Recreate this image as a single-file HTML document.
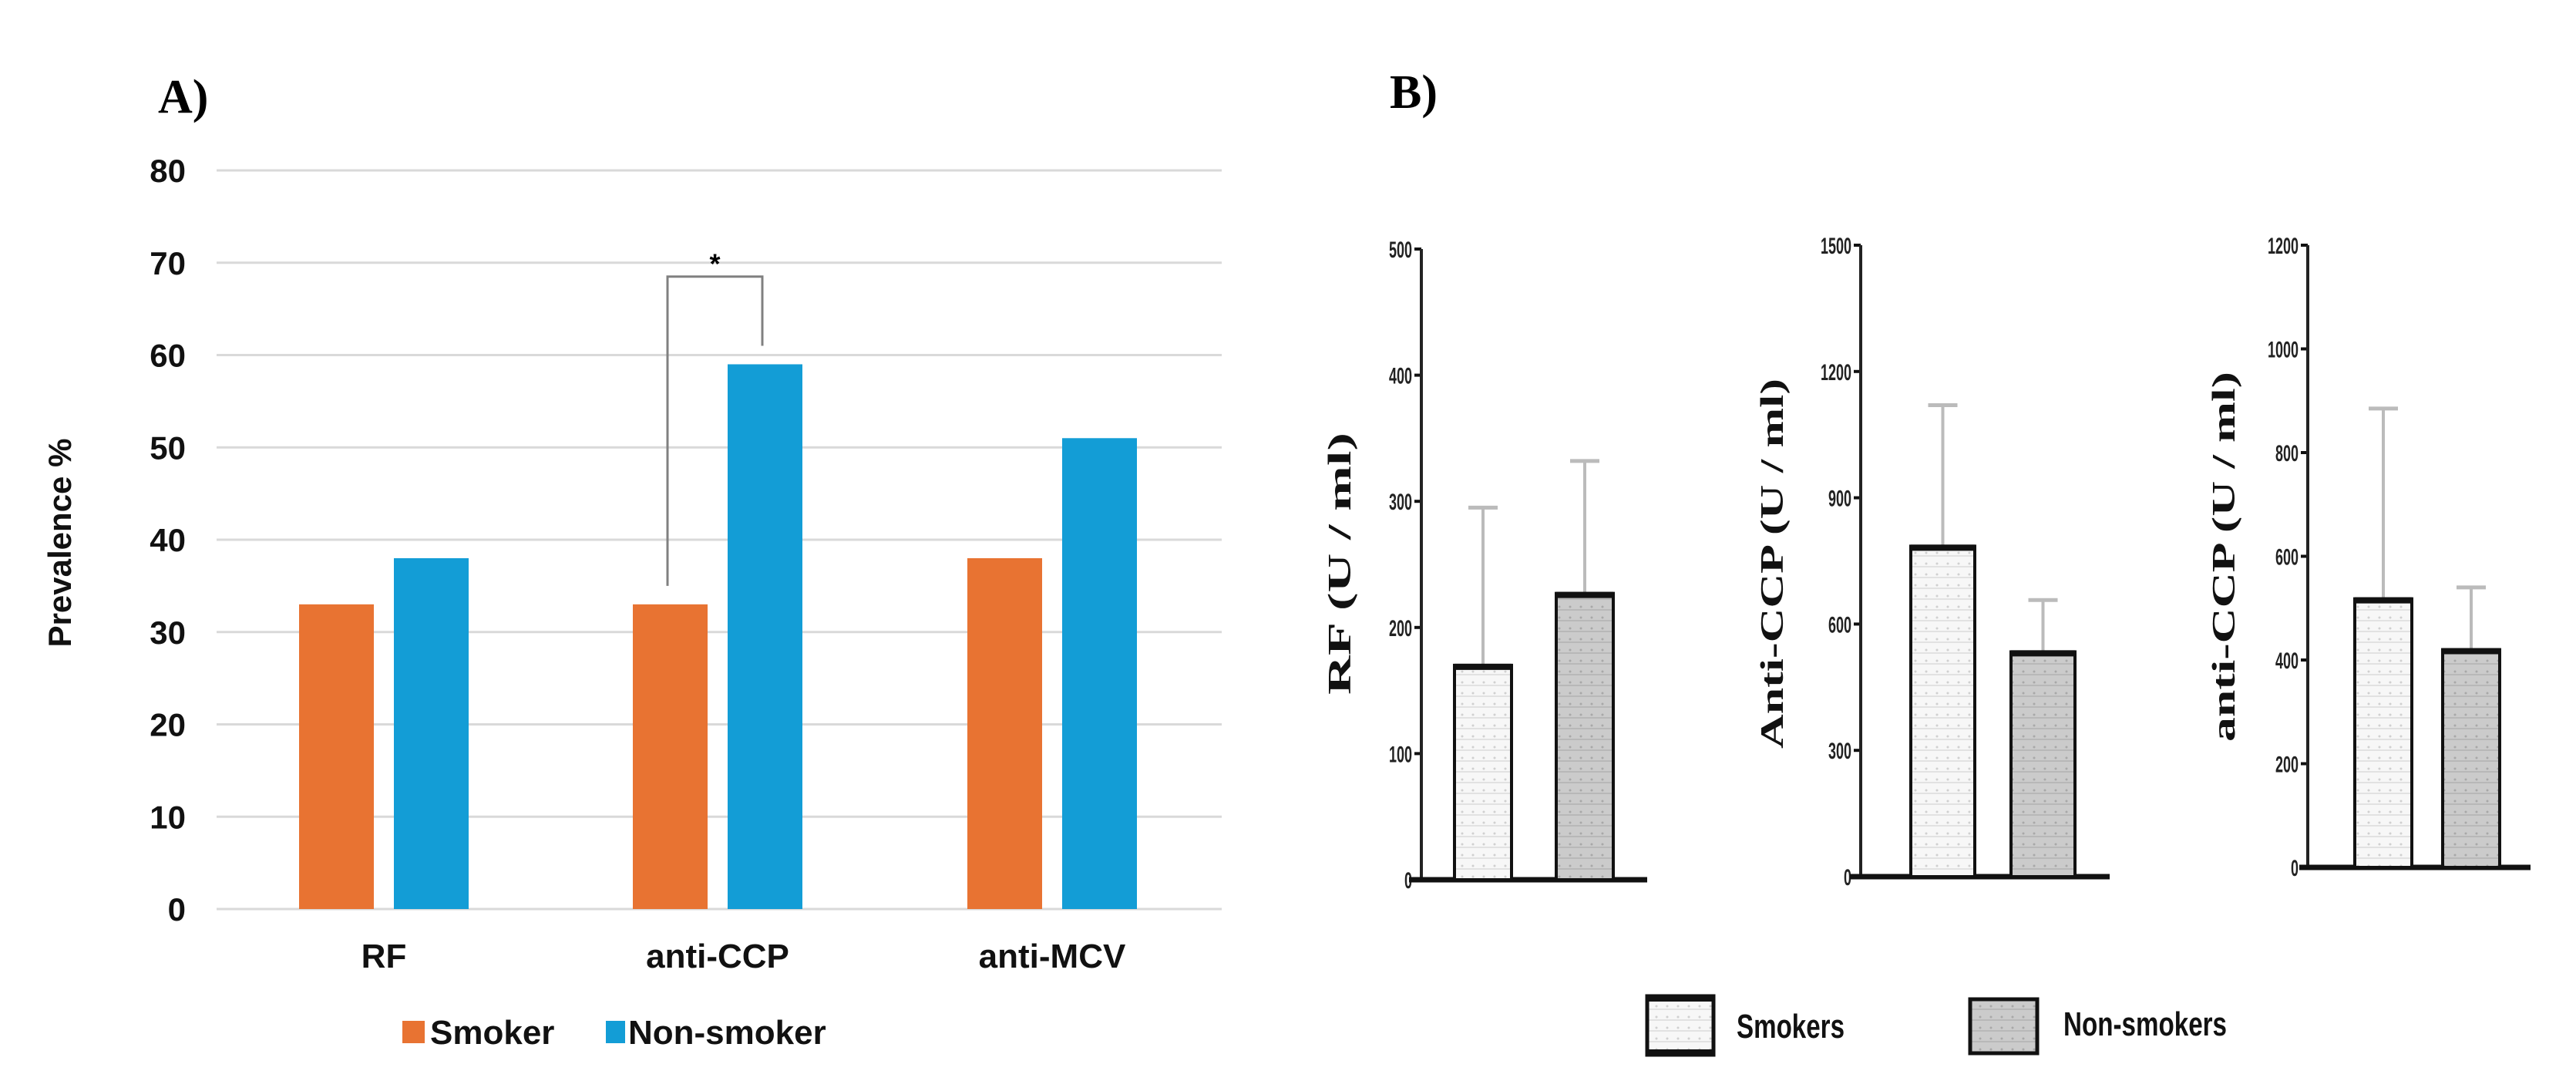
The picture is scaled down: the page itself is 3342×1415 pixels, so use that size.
<!DOCTYPE html>
<html><head><meta charset="utf-8"><style>
html,body{margin:0;padding:0;background:#fff;}
svg{display:block;}
</style></head><body>
<svg id="root" width="3342" height="1415" viewBox="0 0 3342 1415" xmlns="http://www.w3.org/2000/svg">
<defs>
<pattern id="dotLight" width="14" height="14" patternUnits="userSpaceOnUse">
<rect width="14" height="14" fill="#f7f7f7"/><rect x="0" y="6" width="14" height="2" fill="#e2e2e2"/><circle cx="7" cy="3" r="1.5" fill="#d0d0d0"/></pattern>
<pattern id="dotDark" width="14" height="14" patternUnits="userSpaceOnUse">
<rect width="14" height="14" fill="#cbcbcb"/><rect x="0" y="6" width="14" height="2" fill="#b8b8b8"/><circle cx="7" cy="3" r="1.5" fill="#a8a8a8"/></pattern>
</defs>
<g id="panelA"></g>
<g id="panelB"></g>
</svg>
<script>
const NS="http://www.w3.org/2000/svg";
// Panel A data
const catsA=["RF","anti-CCP","anti-MCV"];
const smokerA=[33,33,38];
const nonSmokerA=[38,59,51];
const ticksA=[0,10,20,30,40,50,60,70,80];
// Panel B data
const titlesB=["RF (U / ml)","Anti-CCP (U / ml)","anti-CCP (U / ml)"];
const maxB=[500,1500,1200];
const ticksB1=[0,100,200,300,400,500];
const ticksB2=[0,300,600,900,1200,1500];
const ticksB3=[0,200,400,600,800,1000,1200];
const smokerMeanB=[170,785,518];
const smokerErrB=[295,1120,885];
const nonMeanB=[227,534,420];
const nonErrB=[332,657,540];

function mk(tag,attrs,parent,text){const e=document.createElementNS(NS,tag);for(const k in attrs)e.setAttribute(k,attrs[k]);if(text!==undefined)e.textContent=text;parent.appendChild(e);return e;}

const A=document.getElementById('panelA');
const yA=v=>1179-(v-0)*(1179-221)/80;
const cx=[498,931,1365];
let t=mk('text',{x:205,y:146,'font-family':'Liberation Serif, serif','font-weight':'bold','font-size':62},A,'A)');


ticksA.forEach(v=>{
  const g=mk('line',{x1:281,x2:1585,y1:yA(v),y2:yA(v),stroke:'#d9d9d9','stroke-width':3},A);
  
  
  const l=mk('text',{x:241,y:yA(v)+15,'text-anchor':'end','font-family':'Liberation Sans, sans-serif','font-weight':'bold','font-size':42,fill:'#111'},A,String(v));
  
  
});
t=mk('text',{x:0,y:0,transform:'translate(92,704) rotate(-90)','text-anchor':'middle','font-family':'Liberation Sans, sans-serif','font-weight':'bold','font-size':42,fill:'#111'},A,'Prevalence %');


const bw=97;
catsA.forEach((c,i)=>{
  const b1=mk('rect',{x:cx[i]-110,y:yA(smokerA[i]),width:bw,height:yA(0)-yA(smokerA[i]),fill:'#e87332'},A);
  
  
  const b2=mk('rect',{x:cx[i]+13,y:yA(nonSmokerA[i]),width:bw,height:yA(0)-yA(nonSmokerA[i]),fill:'#139dd6'},A);
  
  
  const l=mk('text',{x:cx[i],y:1255,'text-anchor':'middle','font-family':'Liberation Sans, sans-serif','font-weight':'bold','font-size':44,fill:'#111'},A,c);
  
  
});
const bxL=cx[1]-65, bxR=cx[1]+58;
const br=mk('polyline',{points:`${bxL},${yA(35)} ${bxL},${yA(68.5)} ${bxR},${yA(68.5)} ${bxR},${yA(61)}`,fill:'none',stroke:'#808080','stroke-width':3},A);


t=mk('text',{x:(bxL+bxR)/2,y:yA(68.5)-4,'text-anchor':'middle','font-family':'Liberation Sans, sans-serif','font-weight':'bold','font-size':36},A,'*');


let lg=mk('g',{},A);


let e=mk('rect',{x:522,y:1324,width:29,height:29,fill:'#e87332'},lg);


e=mk('text',{x:558,y:1354,'font-family':'Liberation Sans, sans-serif','font-weight':'bold','font-size':44,fill:'#111'},lg,'Smoker');


e=mk('rect',{x:786,y:1324,width:25,height:29,fill:'#139dd6'},lg);


e=mk('text',{x:815,y:1354,'font-family':'Liberation Sans, sans-serif','font-weight':'bold','font-size':44,fill:'#111'},lg,'Non-smoker');



const B=document.getElementById('panelB');
t=mk('text',{x:1803,y:140,'font-family':'Liberation Serif, serif','font-weight':'bold','font-size':62},B,'B)');


const geo=[
 {ax:1844,top:323,bot:1141,x0:1828,x1:2137,s:1887,n:2019,bw:74,tx:1752,ty:731,tl:340},
 {ax:2414,top:318,bot:1137,x0:2400,x1:2737,s:2479,n:2609,bw:83,tx:2313,ty:731,tl:480},
 {ax:2994,top:318,bot:1125,x0:2983,x1:3283,s:3055,n:3169,bw:74,tx:2899,ty:722,tl:480}
];
const ticksB=[ticksB1,ticksB2,ticksB3];
geo.forEach((g,i)=>{
  const grp=mk('g',{},B);
  
  
  const y=v=>g.bot-v*(g.bot-g.top)/maxB[i];
  ticksB[i].forEach(v=>{
    const tk=mk('line',{x1:g.ax-9,x2:g.ax,y1:y(v),y2:y(v),stroke:'#111','stroke-width':4},grp);
    
    
    const s=String(v);
    const tl=mk('text',{x:g.ax-12,y:y(v)+11,'text-anchor':'end','font-family':'Liberation Sans Narrow, Liberation Sans, sans-serif','font-weight':'bold','font-size':30,fill:'#222',textLength:s.length*10,lengthAdjust:'spacingAndGlyphs'},grp,s);
    
    
  });
  let a=mk('line',{x1:g.ax,x2:g.ax,y1:g.top,y2:g.bot,stroke:'#222','stroke-width':4},grp);
  
  
  a=mk('line',{x1:g.x0,x2:g.x1,y1:g.bot,y2:g.bot,stroke:'#111','stroke-width':7},grp);
  
  
  const bars=[[g.s,smokerMeanB[i],smokerErrB[i],'url(#dotLight)','smoker'],[g.n,nonMeanB[i],nonErrB[i],'url(#dotDark)','non-smoker']];
  bars.forEach(([x,m,er,f,nm])=>{
    const c=x+g.bw/2;
    const el=mk('line',{x1:c,x2:c,y1:y(er),y2:y(m),stroke:'#bbb','stroke-width':4},grp);
    
    
    const cp=mk('line',{x1:c-19,x2:c+19,y1:y(er),y2:y(er),stroke:'#bbb','stroke-width':5},grp);
    
    
    const r=mk('rect',{x:x,y:y(m),width:g.bw,height:g.bot-y(m),fill:f,stroke:'#111','stroke-width':4},grp);
    
    
    const tp=mk('line',{x1:x,x2:x+g.bw,y1:y(m)+2,y2:y(m)+2,stroke:'#111','stroke-width':8},grp);
    
    
  });
  const tt=mk('text',{x:0,y:0,transform:`translate(${g.tx},${g.ty}) rotate(-90)`,'text-anchor':'middle','font-family':'Liberation Serif, serif','font-weight':'bold','font-size':42,fill:'#111',textLength:g.tl,lengthAdjust:'spacingAndGlyphs'},grp,titlesB[i]);
  
  
});
lg=mk('g',{},B);


e=mk('rect',{x:2137,y:1292,width:86,height:76,fill:'url(#dotLight)',stroke:'#111','stroke-width':5},lg);


e=mk('line',{x1:2137,x2:2223,y1:1295,y2:1295,stroke:'#111','stroke-width':8},lg);


e=mk('line',{x1:2137,x2:2223,y1:1365,y2:1365,stroke:'#111','stroke-width':8},lg);


e=mk('text',{x:2253,y:1346,'font-family':'Liberation Sans Narrow, Liberation Sans, sans-serif','font-weight':'bold','font-size':44,fill:'#111',textLength:140,lengthAdjust:'spacingAndGlyphs'},lg,'Smokers');


e=mk('rect',{x:2556,y:1296,width:87,height:70,fill:'url(#dotDark)',stroke:'#111','stroke-width':5},lg);


e=mk('text',{x:2677,y:1343,'font-family':'Liberation Sans Narrow, Liberation Sans, sans-serif','font-weight':'bold','font-size':44,fill:'#111',textLength:212,lengthAdjust:'spacingAndGlyphs'},lg,'Non-smokers');


</script>
</body></html>
